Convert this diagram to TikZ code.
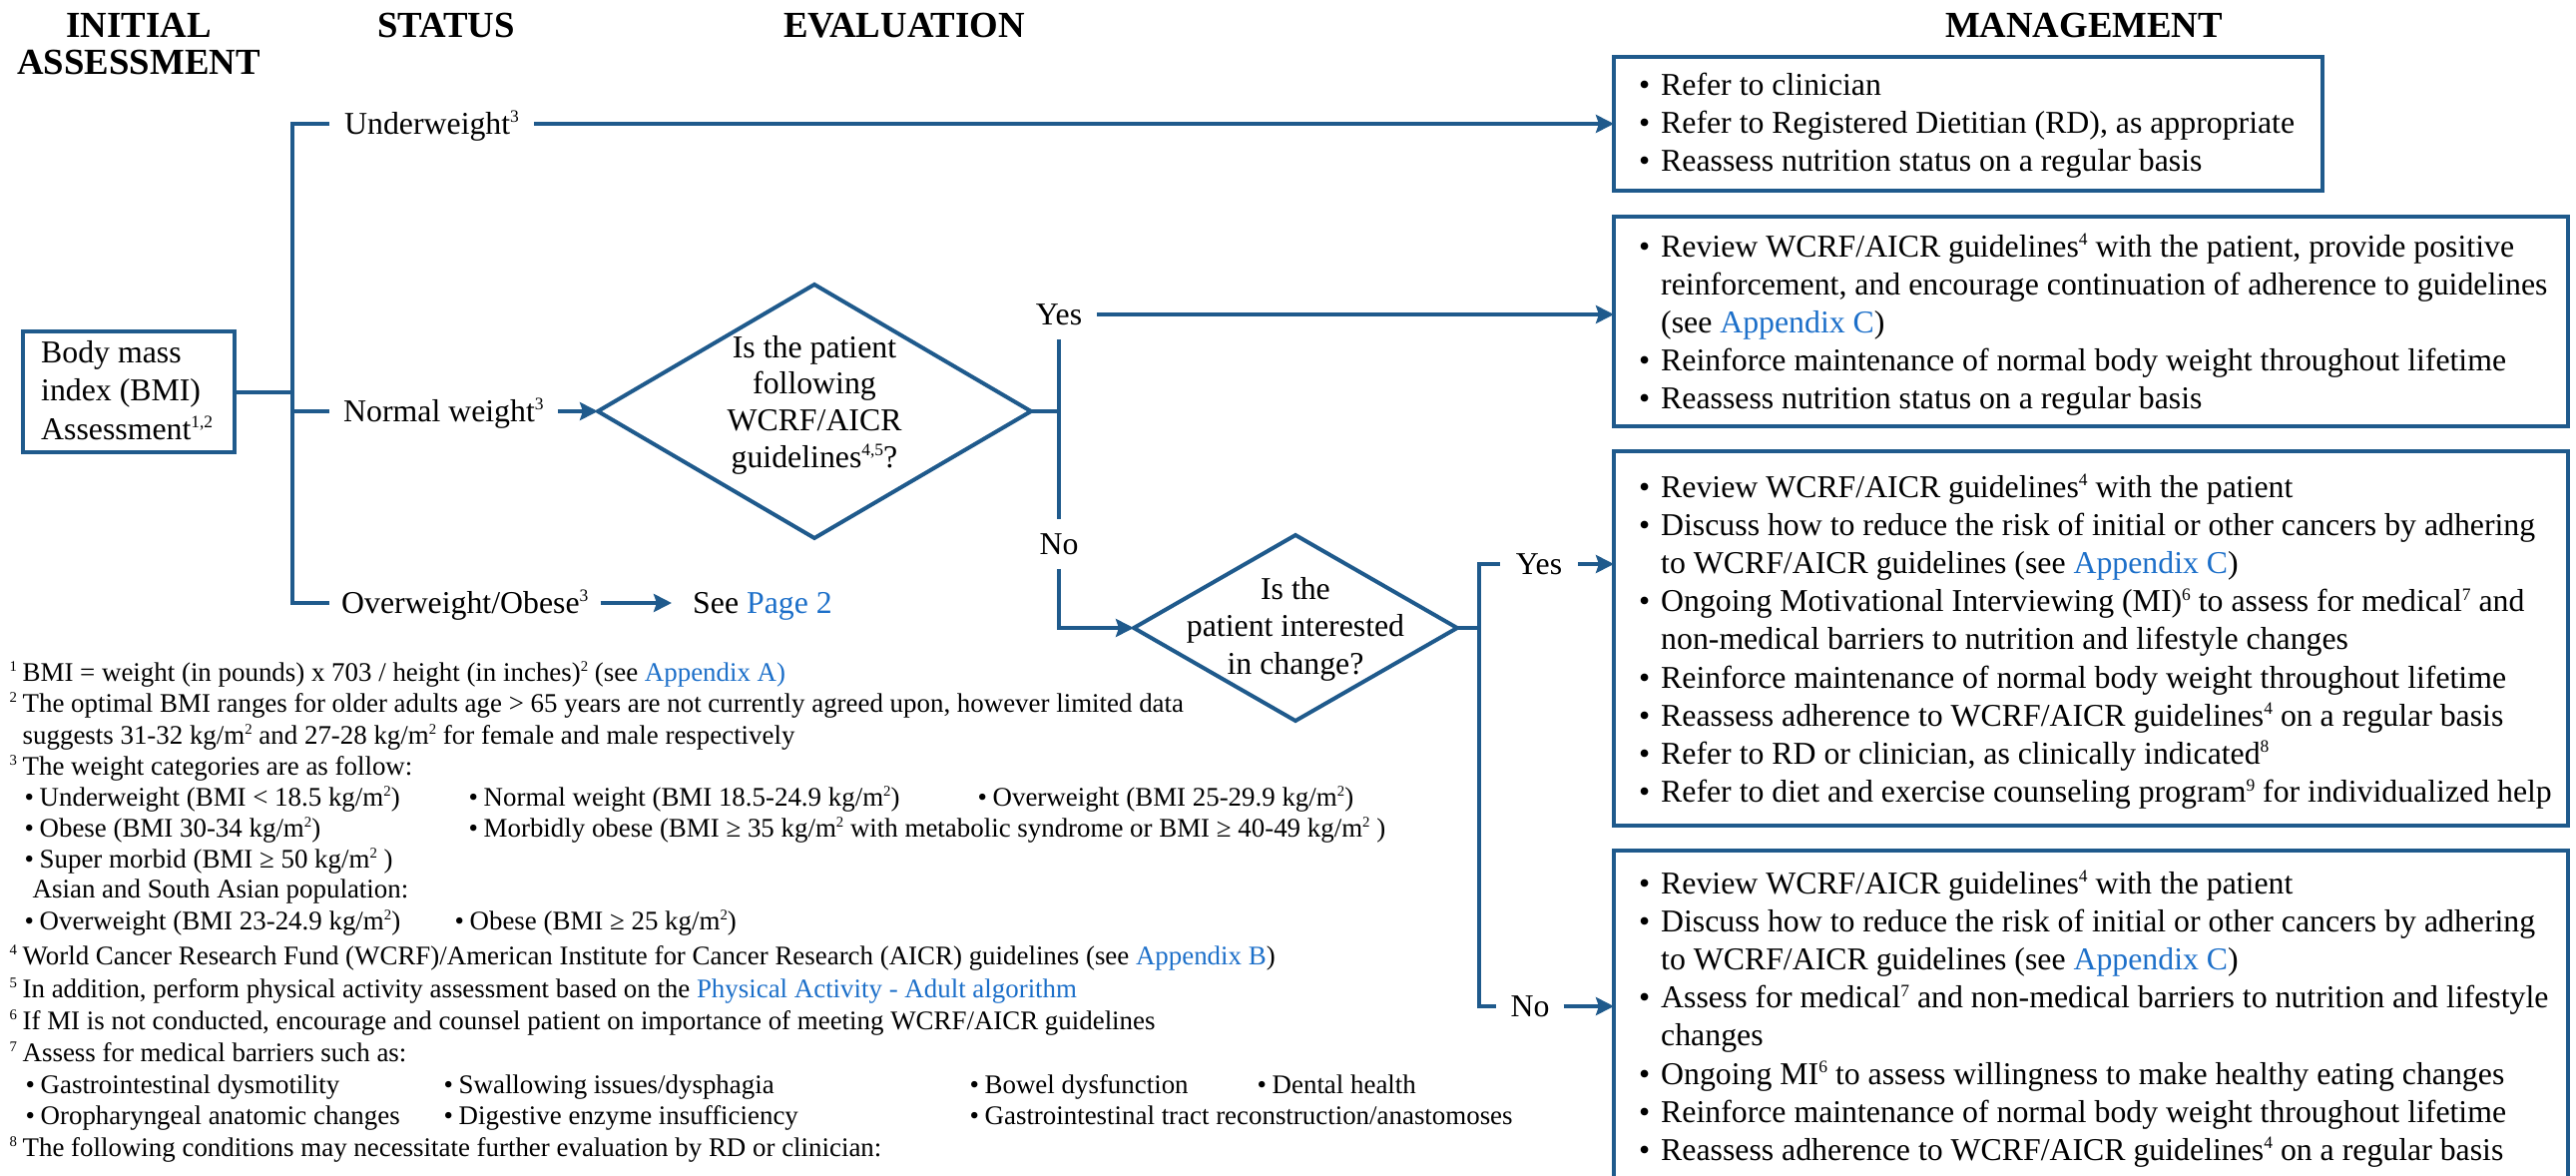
\documentclass[tikz,border=0pt]{standalone}
\usepackage{fontspec}
\setmainfont{Liberation Serif}
\usetikzlibrary{arrows.meta,shapes.geometric,calc}
\definecolor{flow}{HTML}{1F5A8C}
\definecolor{lnk}{HTML}{1C6FC9}
\makeatletter
\newcommand\sps[1]{\raisebox{0.36em}{\fontsize{\fpeval{0.55*\f@size}}{0}\selectfont #1}}
\makeatother
\newcommand\bodyfont{\fontsize{31.8}{38.2}\selectfont}
\newcommand\headfont{\fontsize{36.8}{37}\selectfont\bfseries}
\newcommand\fnfont{\fontsize{26.9}{31.7}\selectfont}
\newcommand\bul{\makebox[22pt][l]{\textbullet}}
\newcommand\ind{\hspace*{22pt}}
\newcommand\fbul{\makebox[15pt][l]{\textbullet}}
\newcommand\lk[1]{\textcolor{lnk}{#1}}
\newcommand\fat[2]{\makebox[0pt][l]{\hspace*{#1pt}#2}}
\newcommand\boxtext[2]{\parbox[t]{#1pt}{\bodyfont\lineskiplimit=-1000pt\lineskip=0pt #2}}
\begin{document}
\begin{tikzpicture}[x=1pt,y=-1pt,
  conn/.style={draw=flow, line width=4pt},
  arr/.style={conn, -{Stealth[length=18pt,width=18pt,inset=3pt]}},
  mbox/.style={draw=flow, line width=4.2pt, rectangle, inner sep=0pt, outer sep=0pt, anchor=north west},
  dia/.style={diamond, draw=flow, line width=4pt, inner sep=0pt, outer sep=0pt},
  txt/.style={inner sep=0pt, anchor=base west},
  ctxt/.style={inner sep=0pt, anchor=base},
  hd/.style={inner sep=0pt, anchor=base, font=\headfont},
  lbl/.style={inner xsep=15pt, inner ysep=0pt, font=\bodyfont},
  fn/.style={inner sep=0pt, anchor=base west, font=\fnfont}]
\useasboundingbox (0,0) rectangle (2581,1178);
\clip (0,0) rectangle (2581,1178);

% headers
\node[hd] (h1) at (139,37) {\parbox[t]{400pt}{\centering\headfont INITIAL\\ASSESSMENT}};
\node[hd] (h2) at (447,37) {STATUS};
\node[hd] (h3) at (906,37) {EVALUATION};
\node[hd] (h4) at (2088,37) {MANAGEMENT};

% initial box
\node[mbox, minimum width=212pt, minimum height=121pt] (bmi) at (23,332) {};
\node[txt] (bmit) at (41,363) {\parbox[t]{200pt}{\bodyfont\baselineskip=38.5pt\lineskiplimit=-1000pt Body mass\\index (BMI)\\Assessment\sps{1,2}}};

% trunk coordinates
\coordinate (t1) at (293,124);
\coordinate (t2) at (293,412);
\coordinate (t3) at (293,604);

% status labels
\node[lbl, anchor=base west] (uw) at (330,134) {Underweight\sps{3}};
\node[lbl, anchor=base west, inner xsep=14pt] (nw) at (330,422) {Normal weight\sps{3}};
\node[lbl, anchor=base west, inner xsep=12pt] (ow) at (330,614) {Overweight/Obese\sps{3}};
\node[lbl, anchor=base west, inner xsep=21pt] (see) at (673,614) {See \lk{Page 2}};

% diamonds
\node[dia, minimum width=434pt, minimum height=254pt] (d1) at (816,412) {};
\node[ctxt] (d1t) at (816,358) {\parbox[t]{300pt}{\centering\bodyfont\baselineskip=36.8pt\lineskiplimit=-1000pt Is the patient\\following\\WCRF/AICR\\guidelines\sps{4,5}?}};
\node[dia, minimum width=324pt, minimum height=186pt] (d2) at (1298,629) {};
\node[ctxt] (d2t) at (1298,600) {\parbox[t]{300pt}{\centering\bodyfont\baselineskip=37.5pt\lineskiplimit=-1000pt Is the\\patient interested\\in change?}};

% yes / no labels
\node[lbl, inner ysep=14pt] (yes1) at (1061,315) {Yes};
\node[lbl, inner ysep=14pt] (no1) at (1061,545) {No};
\coordinate (j5) at (1482,629);
\node[lbl, inner xsep=16pt] (yes2) at (1542,565) {Yes};
\node[lbl, inner xsep=14pt] (no2) at (1533,1008) {No};

% management boxes
\node[mbox, minimum width=710pt, minimum height=134pt] (box1) at (1617,57) {};
\node[mbox, minimum width=956pt, minimum height=210pt] (box2) at (1617,217) {};
\node[mbox, minimum width=956pt, minimum height=375pt] (box3) at (1617,452) {};
\node[mbox, minimum width=956pt, minimum height=330pt] (box4) at (1617,852) {};

\node[txt] (box1t) at (1642,95) {\boxtext{940}{%
\bul Refer to clinician\\
\bul Refer to Registered Dietitian (RD), as appropriate\\
\bul Reassess nutrition status on a regular basis}};

\node[txt] (box2t) at (1642,257) {\boxtext{940}{%
\bul Review WCRF/AICR guidelines\sps{4} with the patient, provide positive\\
\ind reinforcement, and encourage continuation of adherence to guidelines\\
\ind (see \lk{Appendix C})\\
\bul Reinforce maintenance of normal body weight throughout lifetime\\
\bul Reassess nutrition status on a regular basis}};

\node[txt] (box3t) at (1642,498) {\boxtext{940}{%
\bul Review WCRF/AICR guidelines\sps{4} with the patient\\
\bul Discuss how to reduce the risk of initial or other cancers by adhering\\
\ind to WCRF/AICR guidelines (see \lk{Appendix C})\\
\bul Ongoing Motivational Interviewing (MI)\sps{6} to assess for medical\sps{7} and\\
\ind non-medical barriers to nutrition and lifestyle changes\\
\bul Reinforce maintenance of normal body weight throughout lifetime\\
\bul Reassess adherence to WCRF/AICR guidelines\sps{4} on a regular basis\\
\bul Refer to RD or clinician, as clinically indicated\sps{8}\\
\bul Refer to diet and exercise counseling program\sps{9} for individualized help}};

\node[txt] (box4t) at (1642,895) {\boxtext{940}{%
\bul Review WCRF/AICR guidelines\sps{4} with the patient\\
\bul Discuss how to reduce the risk of initial or other cancers by adhering\\
\ind to WCRF/AICR guidelines (see \lk{Appendix C})\\
\bul Assess for medical\sps{7} and non-medical barriers to nutrition and lifestyle\\
\ind changes\\
\bul Ongoing MI\sps{6} to assess willingness to make healthy eating changes\\
\bul Reinforce maintenance of normal body weight throughout lifetime\\
\bul Reassess adherence to WCRF/AICR guidelines\sps{4} on a regular basis}};

% connectors
\draw[conn] (bmi.east) -- (bmi.east -| t1);
\draw[conn] (uw.west |- t1) -- (t1) -- (t3) -- (ow.west |- t3);
\draw[conn] (t2) -- (nw.west |- t2);
\draw[arr] (uw.east |- t1) -- (box1.west |- t1);
\draw[arr] (nw.east |- t2) -- (d1.west);
\draw[arr] (ow.east |- t3) -- (see.west |- t3);
\draw[conn] (d1.east) -- (d1.east -| yes1.south);
\draw[conn] (yes1.south) -- (no1.north);
\draw[arr] (no1.south) |- (d2.west);
\draw[arr] (yes1.east) -- (yes1.east -| box2.west);
\draw[conn] (d2.east) -- (j5);
\draw[conn] (yes2.west) -- (yes2.west -| j5) -- (no2.west -| j5) -- (no2.west);
\draw[arr] (yes2.east) -- (yes2.east -| box3.west);
\draw[arr] (no2.east) -- (no2.east -| box4.west);

% footnotes
\node[fn] (f1) at (0,682) {\fat{9}{\sps{1}}\fat{22}{BMI = weight (in pounds) x 703 / height (in inches)\sps{2} (see \lk{Appendix A)}}};
\node[fn] (f2) at (0,713) {\fat{9}{\sps{2}}\fat{22}{The optimal BMI ranges for older adults age > 65 years are not currently agreed upon, however limited data}};
\node[fn] (f3) at (0,745) {\fat{22}{suggests 31-32 kg/m\sps{2} and 27-28 kg/m\sps{2} for female and male respectively}};
\node[fn] (f4) at (0,776) {\fat{9}{\sps{3}}\fat{22}{The weight categories are as follow:}};
\node[fn] (f5) at (0,807) {\fat{24}{\fbul Underweight (BMI < 18.5 kg/m\sps{2})}\fat{469}{\fbul Normal weight (BMI 18.5-24.9 kg/m\sps{2})}\fat{979}{\fbul Overweight (BMI 25-29.9 kg/m\sps{2})}};
\node[fn] (f6) at (0,838) {\fat{24}{\fbul Obese (BMI 30-34 kg/m\sps{2})}\fat{469}{\fbul Morbidly obese (BMI ≥ 35 kg/m\sps{2} with metabolic syndrome or BMI ≥ 40-49 kg/m\sps{2} )}};
\node[fn] (f7) at (0,869) {\fat{24}{\fbul Super morbid (BMI ≥ 50 kg/m\sps{2} )}};
\node[fn] (f8) at (0,899) {\fat{32}{Asian and South Asian population:}};
\node[fn] (f9) at (0,931) {\fat{24}{\fbul Overweight (BMI 23-24.9 kg/m\sps{2})}\fat{455}{\fbul Obese (BMI ≥ 25 kg/m\sps{2})}};
\node[fn] (f10) at (0,966) {\fat{9}{\sps{4}}\fat{22}{World Cancer Research Fund (WCRF)/American Institute for Cancer Research (AICR) guidelines (see \lk{Appendix B})}};
\node[fn] (f11) at (0,999) {\fat{9}{\sps{5}}\fat{22}{In addition, perform physical activity assessment based on the \lk{Physical Activity - Adult algorithm}}};
\node[fn] (f12) at (0,1031) {\fat{9}{\sps{6}}\fat{22}{If MI is not conducted, encourage and counsel patient on importance of meeting WCRF/AICR guidelines}};
\node[fn] (f13) at (0,1063) {\fat{9}{\sps{7}}\fat{22}{Assess for medical barriers such as:}};
\node[fn] (f14) at (0,1095) {\fat{25}{\fbul Gastrointestinal dysmotility}\fat{444}{\fbul Swallowing issues/dysphagia}\fat{971}{\fbul Bowel dysfunction}\fat{1259}{\fbul Dental health}};
\node[fn] (f15) at (0,1126) {\fat{25}{\fbul Oropharyngeal anatomic changes}\fat{444}{\fbul Digestive enzyme insufficiency}\fat{971}{\fbul Gastrointestinal tract reconstruction/anastomoses}};
\node[fn] (f16) at (0,1158) {\fat{9}{\sps{8}}\fat{22}{The following conditions may necessitate further evaluation by RD or clinician:}};
\end{tikzpicture}
\end{document}
